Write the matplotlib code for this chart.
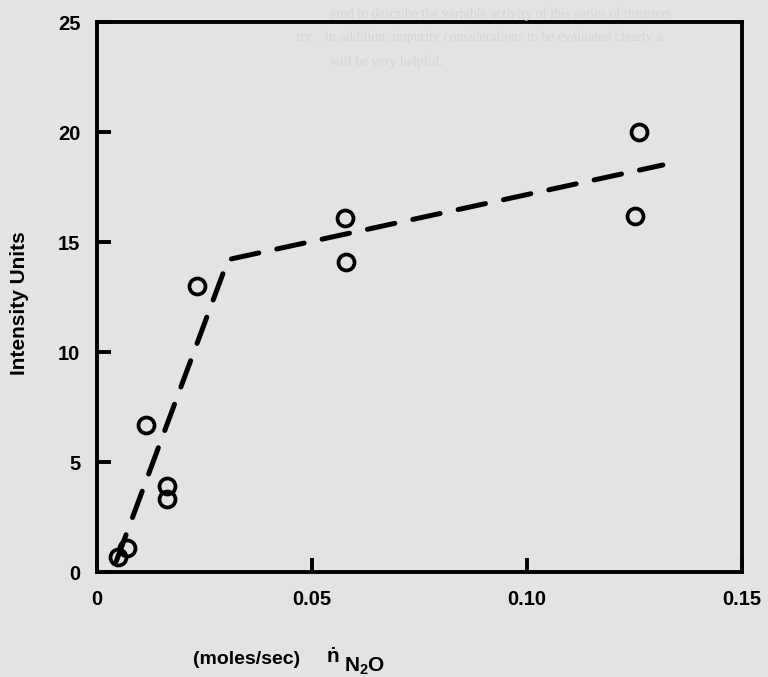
import matplotlib
matplotlib.use("Agg")
import matplotlib.pyplot as plt
from matplotlib import font_manager

# ---- data ----
x_points = [0.0049, 0.0070, 0.0114, 0.0163, 0.0163, 0.0233, 0.0577, 0.0579, 0.1260, 0.1251]
y_points = [0.68, 1.1, 6.7, 3.9, 3.3, 13.0, 16.1, 14.1, 20.0, 16.2]
fit_x = [0.0045, 0.0305, 0.1316]
fit_y = [0.5, 14.2, 18.5]
x_ticks = [0, 0.05, 0.10, 0.15]
x_tick_labels = ["0", "0.05", "0.10", "0.15"]
y_ticks = [0, 5, 10, 15, 20, 25]
y_tick_labels = ["0", "5", "10", "15", "20", "25"]
y_label = "Intensity Units"
x_unit = "(moles/sec)"

names = {f.name for f in font_manager.fontManager.ttflist}
fam = ["Liberation Sans Narrow", "Liberation Sans", "DejaVu Sans"]
fam = [f for f in fam if f in names] + ["DejaVu Sans"]

plt.rcParams["mathtext.fontset"] = "custom"
plt.rcParams["mathtext.rm"] = "Liberation Sans:bold"
plt.rcParams["mathtext.bf"] = "Liberation Sans:bold"
plt.rcParams["mathtext.it"] = "Liberation Sans:bold"

BG = "#e3e3e1"
W, H = 768, 677
fig = plt.figure(figsize=(W / 100, H / 100), dpi=100, facecolor=BG)
ax = fig.add_axes([97 / W, 1 - 572 / H, (742 - 97) / W, (572 - 22) / H])
ax.set_facecolor(BG)

# faint bleed-through text from reverse side of the page
bleed = "#d5d5d3"
serif = ["Liberation Serif", "DejaVu Serif"]
fig.text(330 / W, 1 - 14 / H, "ered to describe the variable activity of this series of thrusters",
         fontsize=10, color=bleed, family=serif, va="center", zorder=0)
fig.text(296 / W, 1 - 38 / H, "try.   In addition, impurity considerations to be evaluated clearly a",
         fontsize=10, color=bleed, family=serif, va="center", zorder=0)
fig.text(330 / W, 1 - 62 / H, "will be very helpful.",
         fontsize=10, color=bleed, family=serif, va="center", zorder=0)

ax.plot(fit_x, fit_y, color="black", lw=3.6, ls=(0, (5.6, 3.68)), dash_capstyle="round",
        solid_joinstyle="round", zorder=2)
ax.plot(x_points, y_points, ls="none", marker="o", ms=11.5, mfc="none", mec="black", mew=2.7,
        zorder=3, clip_on=False)

ax.set_xlim(0, 0.15)
ax.set_ylim(0, 25)
ax.set_xticks(x_ticks)
ax.set_xticklabels(x_tick_labels)
ax.set_yticks(y_ticks)
ax.set_yticklabels(y_tick_labels)
for s in ax.spines.values():
    s.set_linewidth(2.8)
ax.tick_params(direction="in", length=10, width=2.8, labelsize=14.5)
ax.tick_params(axis="y", pad=12)
ax.tick_params(axis="x", pad=13)
ax.tick_params(top=False, right=False)
for lab in ax.get_xticklabels() + ax.get_yticklabels():
    lab.set_fontweight("bold")
    lab.set_family(fam)

fig.text(20 / W, 1 - 303 / H, y_label, rotation=90, fontsize=15, fontweight="bold", family=fam,
         ha="center", va="center")
fig.text(193 / W, 1 - 660 / H, x_unit, fontsize=14, fontweight="bold", family=fam,
         ha="left", va="center")
fig.text(327 / W, 1 - 662 / H, "\u1e45", fontsize=15, fontweight="bold", family=fam,
         ha="left", va="baseline")
fig.text(344 / W, 1 - 672 / H, r"N$_2$O", fontsize=15, fontweight="bold", family=fam,
         ha="left", va="baseline")

fig.savefig("out.png", dpi=100, facecolor=BG)
